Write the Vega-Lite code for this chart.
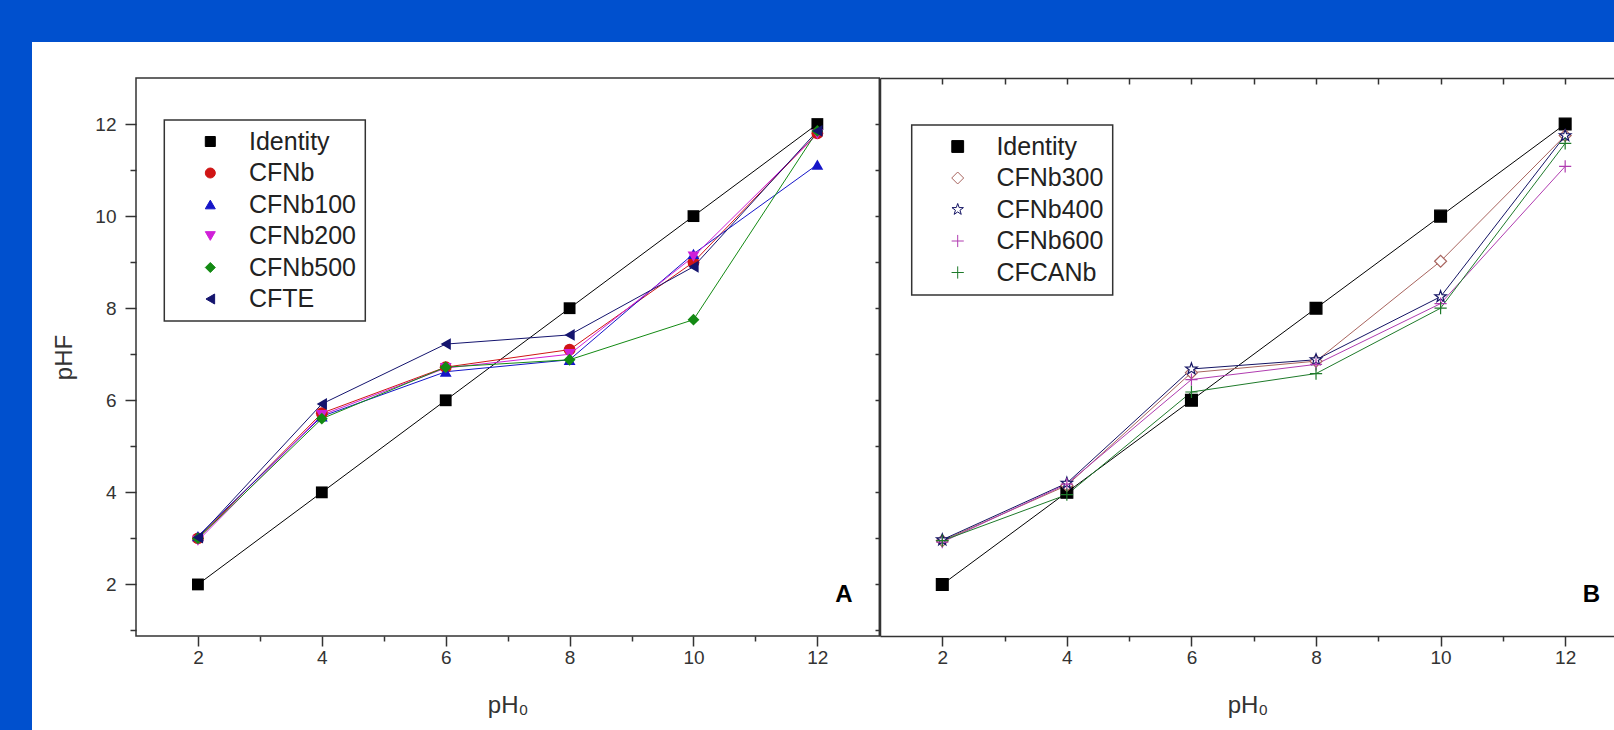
{
  "$schema": "https://vega.github.io/schema/vega-lite/v6.json",
  "background": "white",
  "padding": 0,
  "autosize": {"type": "pad"},
  "config": {
    "view": {"stroke": null},
    "font": "Liberation Sans",
    "axis": {
      "labelFont": "Liberation Sans", "labelFontSize": 19, "labelColor": "#333",
      "titleFont": "Liberation Sans", "titleFontSize": 24, "titleFontWeight": "normal", "titleColor": "#333",
      "domainColor": "#333", "domainWidth": 1.5, "tickColor": "#333", "tickWidth": 1.5,
      "grid": false, "labelOverlap": false, "labelFlush": false
    }
  },
  "datasets": {
    "A": [
      {"s": "Identity", "x": 2, "y": 2}, {"s": "Identity", "x": 4, "y": 4}, {"s": "Identity", "x": 6, "y": 6},
      {"s": "Identity", "x": 8, "y": 8}, {"s": "Identity", "x": 10, "y": 10}, {"s": "Identity", "x": 12, "y": 12},
      {"s": "CFNb", "x": 2, "y": 3.0}, {"s": "CFNb", "x": 4, "y": 5.72}, {"s": "CFNb", "x": 6, "y": 6.72},
      {"s": "CFNb", "x": 8, "y": 7.1}, {"s": "CFNb", "x": 10, "y": 9.0}, {"s": "CFNb", "x": 12, "y": 11.8},
      {"s": "CFNb100", "x": 2, "y": 3.05}, {"s": "CFNb100", "x": 4, "y": 5.65}, {"s": "CFNb100", "x": 6, "y": 6.62},
      {"s": "CFNb100", "x": 8, "y": 6.88}, {"s": "CFNb100", "x": 10, "y": 9.18}, {"s": "CFNb100", "x": 12, "y": 11.12},
      {"s": "CFNb200", "x": 2, "y": 2.95}, {"s": "CFNb200", "x": 4, "y": 5.68}, {"s": "CFNb200", "x": 6, "y": 6.7},
      {"s": "CFNb200", "x": 8, "y": 7.0}, {"s": "CFNb200", "x": 10, "y": 9.12}, {"s": "CFNb200", "x": 12, "y": 11.78},
      {"s": "CFNb500", "x": 2, "y": 3.0}, {"s": "CFNb500", "x": 4, "y": 5.6}, {"s": "CFNb500", "x": 6, "y": 6.72},
      {"s": "CFNb500", "x": 8, "y": 6.88}, {"s": "CFNb500", "x": 10, "y": 7.75}, {"s": "CFNb500", "x": 12, "y": 11.85},
      {"s": "CFTE", "x": 2, "y": 3.02}, {"s": "CFTE", "x": 4, "y": 5.92}, {"s": "CFTE", "x": 6, "y": 7.22},
      {"s": "CFTE", "x": 8, "y": 7.42}, {"s": "CFTE", "x": 10, "y": 8.9}, {"s": "CFTE", "x": 12, "y": 11.85}
    ],
    "B": [
      {"s": "Identity", "x": 2, "y": 2}, {"s": "Identity", "x": 4, "y": 4}, {"s": "Identity", "x": 6, "y": 6},
      {"s": "Identity", "x": 8, "y": 8}, {"s": "Identity", "x": 10, "y": 10}, {"s": "Identity", "x": 12, "y": 12},
      {"s": "CFNb300", "x": 2, "y": 2.95}, {"s": "CFNb300", "x": 4, "y": 4.15}, {"s": "CFNb300", "x": 6, "y": 6.6},
      {"s": "CFNb300", "x": 8, "y": 6.85}, {"s": "CFNb300", "x": 10, "y": 9.02}, {"s": "CFNb300", "x": 12, "y": 11.75},
      {"s": "CFNb400", "x": 2, "y": 2.97}, {"s": "CFNb400", "x": 4, "y": 4.2}, {"s": "CFNb400", "x": 6, "y": 6.68},
      {"s": "CFNb400", "x": 8, "y": 6.88}, {"s": "CFNb400", "x": 10, "y": 8.25}, {"s": "CFNb400", "x": 12, "y": 11.75},
      {"s": "CFNb600", "x": 2, "y": 2.92}, {"s": "CFNb600", "x": 4, "y": 4.18}, {"s": "CFNb600", "x": 6, "y": 6.45},
      {"s": "CFNb600", "x": 8, "y": 6.78}, {"s": "CFNb600", "x": 10, "y": 8.1}, {"s": "CFNb600", "x": 12, "y": 11.08},
      {"s": "CFCANb", "x": 2, "y": 2.95}, {"s": "CFCANb", "x": 4, "y": 3.95}, {"s": "CFCANb", "x": 6, "y": 6.18},
      {"s": "CFCANb", "x": 8, "y": 6.58}, {"s": "CFCANb", "x": 10, "y": 8.0}, {"s": "CFCANb", "x": 12, "y": 11.58}
    ]
  },
  "hconcat": [
    {"width": 32, "height": 730, "data": {"values": []}, "mark": "point", "encoding": {}, "view": {"fill": "#0050CE", "stroke": null}},
    {
      "vconcat": [
        {"width": 1582, "height": 42, "data": {"values": []}, "mark": "point", "encoding": {}, "view": {"fill": "#0050CE", "stroke": null}},
        {
          "hconcat": [
            {"width": 103.7, "height": 558, "data": {"values": []}, "mark": "point", "encoding": {}},
            {
              "width": 743.3, "height": 558,
              "view": {"stroke": "#333", "strokeWidth": 1.5},
              "data": {"name": "A"},
              "layer": [
                {
                  "mark": {"type": "line", "strokeWidth": 1},
                  "encoding": {
                    "x": {"field": "x", "type": "quantitative", "scale": {"domain": [1, 13], "nice": false, "zero": false},
                      "axis": {"orient": "bottom", "values": [2,3,4,5,6,7,8,9,10,11,12], "format": "d", "labelExpr": "datum.value % 2 === 0 ? datum.label : ''",
                        "tickSize": {"condition": {"test": "datum.value % 2 === 0", "value": 10}, "value": 5},
                        "labelPadding": 2, "title": "pH₀", "titlePadding": 26, "domain": false}},
                    "y": {"field": "y", "type": "quantitative", "scale": {"domain": [0.88, 13], "nice": false, "zero": false},
                      "axis": {"orient": "left", "values": [1,2,3,4,5,6,7,8,9,10,11,12], "format": "d", "labelExpr": "datum.value % 2 === 0 ? datum.label : ''",
                        "tickSize": {"condition": {"test": "datum.value % 2 === 0", "value": 11}, "value": 6},
                        "labelPadding": 9, "title": "pHF", "titlePadding": 18, "domain": false}},
                    "color": {"field": "s", "type": "nominal",
                      "scale": {"domain": ["Identity","CFNb","CFNb100","CFNb200","CFNb500","CFTE"], "range": ["#000000","#D01515","#1515C8","#D020D8","#138A13","#14146E"]},
                      "legend": {"orient": "none", "legendX": 28.3, "legendY": 42, "title": null, "padding": 9,
                        "strokeColor": "#333", "fillColor": "#ffffff", "symbolSize": 100, "symbolOffset": 24.5, "labelOffset": 26.2,
                        "labelFontSize": 25, "labelFont": "Liberation Sans", "labelColor": "#222", "rowPadding": 5.5, "labelLimit": 300,
                        "encode": {
                          "legend": {"update": {"strokeWidth": {"value": 1.5}}},
                          "symbols": {"update": {
                            "shape": {"signal": "['M-5.8,0H5.8M-1.1,-1.1H1.1V1.1H-1.1Z','M-5.8,0H5.8M-1.2,0A1.2,1.2,0,1,1,1.2,0A1.2,1.2,0,1,1,-1.2,0Z','M-5.8,0H5.8M0,-1.4L1.35,1L-1.35,1Z','M-5.8,0H5.8M0,1.4L1.35,-1L-1.35,-1Z','M-5.8,0H5.8M0,-1.5L1.3,0L0,1.5L-1.3,0Z','M-5.8,0H5.8M-1.4,0L1,-1.35L1,1.35Z'][indexof(['Identity','CFNb','CFNb100','CFNb200','CFNb500','CFTE'], datum.value)]"},
                            "fill": {"signal": "['#000000','#D01515','#1515C8','#D020D8','#138A13','#14146E'][indexof(['Identity','CFNb','CFNb100','CFNb200','CFNb500','CFTE'], datum.value)]"},
                            "stroke": {"signal": "['#000000','#D01515','#1515C8','#D020D8','#138A13','#14146E'][indexof(['Identity','CFNb','CFNb100','CFNb200','CFNb500','CFTE'], datum.value)]"},
                            "strokeWidth": {"value": 1}, "size": {"value": 100}, "opacity": {"value": 1}
                          }}
                        }}
                    }
                  }
                },
                {
                  "mark": {"type": "point", "filled": true, "size": 140, "opacity": 1},
                  "encoding": {
                    "x": {"field": "x", "type": "quantitative"},
                    "y": {"field": "y", "type": "quantitative"},
                    "color": {"field": "s", "type": "nominal", "legend": null},
                    "shape": {"field": "s", "type": "nominal",
                      "scale": {"domain": ["Identity","CFNb","CFNb100","CFNb200","CFNb500","CFTE"], "range": ["square","circle","triangle-up","triangle-down","diamond","triangle-left"]},
                      "legend": null}
                  }
                },
                {
                  "data": {"values": [{"x": 12.43, "y": 1.78, "t": "A"}]},
                  "mark": {"type": "text", "fontSize": 24, "fontWeight": "bold", "font": "Liberation Sans", "color": "#000", "align": "center", "baseline": "middle"},
                  "encoding": {
                    "x": {"field": "x", "type": "quantitative"},
                    "y": {"field": "y", "type": "quantitative"},
                    "text": {"field": "t"}
                  }
                }
              ]
            },
            {
              "width": 735, "height": 558,
              "data": {"name": "B"},
              "resolve": {"axis": {"x": "independent"}},
              "layer": [
                {
                  "mark": {"type": "line", "strokeWidth": 1},
                  "encoding": {
                    "x": {"field": "x", "type": "quantitative", "scale": {"domain": [1, 12.8], "nice": false, "zero": false},
                      "axis": {"orient": "bottom", "values": [2,3,4,5,6,7,8,9,10,11,12], "format": "d", "labelExpr": "datum.value % 2 === 0 ? datum.label : ''",
                        "tickSize": {"condition": {"test": "datum.value % 2 === 0", "value": 10}, "value": 5},
                        "labelPadding": 2, "title": "pH₀", "titlePadding": 26, "domain": true}},
                    "y": {"field": "y", "type": "quantitative", "scale": {"domain": [0.88, 13], "nice": false, "zero": false},
                      "axis": {"orient": "left", "values": [1,2,3,4,5,6,7,8,9,10,11,12], "labels": false, "tickSize": 5, "title": null, "domain": true}},
                    "color": {"field": "s", "type": "nominal",
                      "scale": {"domain": ["Identity","CFNb300","CFNb400","CFNb600","CFCANb"], "range": ["#000000","#A8645E","#141464","#B03CB0","#1E7A2A"]},
                      "legend": {"orient": "none", "legendX": 31.7, "legendY": 47, "title": null, "padding": 9,
                        "strokeColor": "#333", "fillColor": "#ffffff", "symbolSize": 100, "symbolOffset": 24.5, "labelOffset": 26.2,
                        "labelFontSize": 25, "labelFont": "Liberation Sans", "labelColor": "#222", "rowPadding": 5.5, "labelLimit": 300,
                        "encode": {
                          "legend": {"update": {"strokeWidth": {"value": 1.5}}},
                          "symbols": {"update": {
                            "shape": {"signal": "['M-5.8,0H5.8M-1.1,-1.1H1.1V1.1H-1.1Z','M-5.8,0H-1.4M1.4,0H5.8M0,-1.6L1.4,0L0,1.6L-1.4,0Z','M-5.8,0H-1.3M1.3,0H5.8M0,-1.4L0.33,-0.45L1.33,-0.43L0.53,0.17L0.82,1.13L0,0.56L-0.82,1.13L-0.53,0.17L-1.33,-0.43L-0.33,-0.45Z','M-5.8,0H5.8M0,-1.2V1.2','M-5.8,0H5.8M0,-1.2V1.2'][indexof(['Identity','CFNb300','CFNb400','CFNb600','CFCANb'], datum.value)]"},
                            "fill": {"signal": "['#000000','#ffffff','#ffffff','transparent','transparent'][indexof(['Identity','CFNb300','CFNb400','CFNb600','CFCANb'], datum.value)]"},
                            "stroke": {"signal": "['#000000','#A8645E','#141464','#B03CB0','#1E7A2A'][indexof(['Identity','CFNb300','CFNb400','CFNb600','CFCANb'], datum.value)]"},
                            "strokeWidth": {"value": 1}, "size": {"value": 100}, "opacity": {"value": 1}
                          }}
                        }}
                    }
                  }
                },
                {
                  "mark": {"type": "point", "filled": false, "strokeWidth": 1.2, "opacity": 1},
                  "encoding": {
                    "x": {"field": "x", "type": "quantitative",
                      "axis": {"orient": "top", "values": [2,3,4,5,6,7,8,9,10,11,12], "labels": false, "tickSize": -6, "title": null, "domain": true}},
                    "y": {"field": "y", "type": "quantitative"},
                    "color": {"field": "s", "type": "nominal", "legend": null},
                    "fill": {"field": "s", "type": "nominal",
                      "scale": {"domain": ["Identity","CFNb300","CFNb400","CFNb600","CFCANb"], "range": ["#000000","#ffffff","#ffffff","transparent","transparent"]},
                      "legend": null},
                    "size": {"field": "s", "type": "nominal",
                      "scale": {"domain": ["Identity","CFNb300","CFNb400","CFNb600","CFCANb"], "range": [140,150,200,130,130]},
                      "legend": null},
                    "shape": {"field": "s", "type": "nominal",
                      "scale": {"domain": ["Identity","CFNb300","CFNb400","CFNb600","CFCANb"],
                        "range": ["square","diamond","M0,-1L0.235,-0.324L0.951,-0.309L0.38,0.124L0.588,0.809L0,0.4L-0.588,0.809L-0.38,0.124L-0.951,-0.309L-0.235,-0.324Z","M-1,0H1M0,-1V1","M-1,0H1M0,-1V1"]},
                      "legend": null}
                  }
                },
                {
                  "data": {"values": [{"x": 12.42, "y": 1.78, "t": "B"}]},
                  "mark": {"type": "text", "fontSize": 24, "fontWeight": "bold", "font": "Liberation Sans", "color": "#000", "align": "center", "baseline": "middle"},
                  "encoding": {
                    "x": {"field": "x", "type": "quantitative", "axis": null},
                    "y": {"field": "y", "type": "quantitative"},
                    "text": {"field": "t"}
                  }
                }
              ]
            }
          ],
          "resolve": {
            "scale": {"color": "independent", "shape": "independent", "fill": "independent", "size": "independent"},
            "legend": {"color": "independent", "shape": "independent", "fill": "independent", "size": "independent"}
          },
          "spacing": 0,
          "bounds": "flush"
        }
      ],
      "spacing": 36,
      "bounds": "flush"
    }
  ],
  "spacing": 0,
  "bounds": "flush"
}
